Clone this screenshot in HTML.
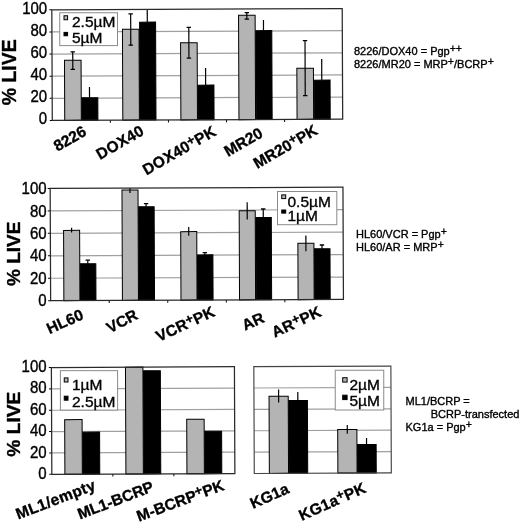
<!DOCTYPE html>
<html><head><meta charset="utf-8"><style>
html,body{margin:0;padding:0;background:#fff;}
svg{display:block;font-family:"Liberation Sans", sans-serif;filter:blur(0.3px);}
text{stroke:#000;stroke-width:0.35px;}
</style></head><body>
<svg width="520" height="524" viewBox="0 0 520 524">
<rect width="520" height="524" fill="#fff"/>
<g transform="rotate(-0.24 197.25 64.5)">
<line x1="52.05" y1="97.71" x2="342.45" y2="97.71" stroke="#a0a0a0" stroke-width="1.2"/>
<line x1="52.05" y1="75.57" x2="342.45" y2="75.57" stroke="#a0a0a0" stroke-width="1.2"/>
<line x1="52.05" y1="53.43" x2="342.45" y2="53.43" stroke="#a0a0a0" stroke-width="1.2"/>
<line x1="52.05" y1="31.29" x2="342.45" y2="31.29" stroke="#a0a0a0" stroke-width="1.2"/>
<line x1="49.55" y1="119.85" x2="52.05" y2="119.85" stroke="#000" stroke-width="1"/>
<line x1="49.55" y1="97.71" x2="52.05" y2="97.71" stroke="#000" stroke-width="1"/>
<line x1="49.55" y1="75.57" x2="52.05" y2="75.57" stroke="#000" stroke-width="1"/>
<line x1="49.55" y1="53.43" x2="52.05" y2="53.43" stroke="#000" stroke-width="1"/>
<line x1="49.55" y1="31.29" x2="52.05" y2="31.29" stroke="#000" stroke-width="1"/>
<line x1="49.55" y1="9.15" x2="52.05" y2="9.15" stroke="#000" stroke-width="1"/>
<rect x="64.50" y="59.78" width="16.59" height="60.07" fill="#b4b4b4" stroke="#000" stroke-width="1"/>
<rect x="81.69" y="97.25" width="15.99" height="22.60" fill="#000" stroke="#000" stroke-width="1"/>
<line x1="72.79" y1="51.28" x2="72.79" y2="68.88" stroke="#000" stroke-width="1.2"/>
<line x1="70.59" y1="51.28" x2="74.99" y2="51.28" stroke="#000" stroke-width="1.3"/>
<line x1="70.59" y1="68.88" x2="74.99" y2="68.88" stroke="#000" stroke-width="1.3"/>
<line x1="89.39" y1="86.55" x2="89.39" y2="97.25" stroke="#000" stroke-width="1.2"/>
<rect x="122.58" y="29.02" width="16.59" height="90.83" fill="#b4b4b4" stroke="#000" stroke-width="1"/>
<rect x="139.77" y="21.89" width="15.99" height="97.96" fill="#000" stroke="#000" stroke-width="1"/>
<line x1="130.87" y1="13.62" x2="130.87" y2="44.92" stroke="#000" stroke-width="1.2"/>
<line x1="128.67" y1="13.62" x2="133.07" y2="13.62" stroke="#000" stroke-width="1.3"/>
<line x1="128.67" y1="44.92" x2="133.07" y2="44.92" stroke="#000" stroke-width="1.3"/>
<line x1="147.47" y1="9.15" x2="147.47" y2="21.89" stroke="#000" stroke-width="1.2"/>
<line x1="110.13" y1="119.85" x2="110.13" y2="122.35" stroke="#000" stroke-width="1"/>
<rect x="180.66" y="42.77" width="16.59" height="77.08" fill="#b4b4b4" stroke="#000" stroke-width="1"/>
<rect x="197.85" y="85.13" width="15.99" height="34.72" fill="#000" stroke="#000" stroke-width="1"/>
<line x1="188.95" y1="27.37" x2="188.95" y2="58.07" stroke="#000" stroke-width="1.2"/>
<line x1="186.75" y1="27.37" x2="191.15" y2="27.37" stroke="#000" stroke-width="1.3"/>
<line x1="186.75" y1="58.07" x2="191.15" y2="58.07" stroke="#000" stroke-width="1.3"/>
<line x1="205.55" y1="67.93" x2="205.55" y2="85.13" stroke="#000" stroke-width="1.2"/>
<line x1="168.21" y1="119.85" x2="168.21" y2="122.35" stroke="#000" stroke-width="1"/>
<rect x="238.74" y="15.51" width="16.59" height="104.34" fill="#b4b4b4" stroke="#000" stroke-width="1"/>
<rect x="255.93" y="30.88" width="15.99" height="88.97" fill="#000" stroke="#000" stroke-width="1"/>
<line x1="247.03" y1="12.81" x2="247.03" y2="19.41" stroke="#000" stroke-width="1.2"/>
<line x1="244.83" y1="12.81" x2="249.23" y2="12.81" stroke="#000" stroke-width="1.3"/>
<line x1="244.83" y1="19.41" x2="249.23" y2="19.41" stroke="#000" stroke-width="1.3"/>
<line x1="263.63" y1="20.18" x2="263.63" y2="30.88" stroke="#000" stroke-width="1.2"/>
<line x1="226.29" y1="119.85" x2="226.29" y2="122.35" stroke="#000" stroke-width="1"/>
<rect x="296.82" y="68.65" width="16.59" height="51.20" fill="#b4b4b4" stroke="#000" stroke-width="1"/>
<rect x="314.01" y="80.62" width="15.99" height="39.23" fill="#000" stroke="#000" stroke-width="1"/>
<line x1="305.11" y1="41.15" x2="305.11" y2="96.05" stroke="#000" stroke-width="1.2"/>
<line x1="302.91" y1="41.15" x2="307.31" y2="41.15" stroke="#000" stroke-width="1.3"/>
<line x1="302.91" y1="96.05" x2="307.31" y2="96.05" stroke="#000" stroke-width="1.3"/>
<line x1="321.71" y1="59.52" x2="321.71" y2="80.62" stroke="#000" stroke-width="1.2"/>
<line x1="284.37" y1="119.85" x2="284.37" y2="122.35" stroke="#000" stroke-width="1"/>
<rect x="52.05" y="9.15" width="290.40" height="110.70" fill="none" stroke="#2a2a2a" stroke-width="1.25"/>
</g>
<text x="47.20" y="124.30" font-size="15" text-anchor="end" transform="translate(47.20 124.30) scale(1 1.08) translate(-47.20 -124.30)">0</text>
<text x="47.20" y="102.20" font-size="15" text-anchor="end" transform="translate(47.20 102.20) scale(1 1.08) translate(-47.20 -102.20)">20</text>
<text x="47.20" y="80.10" font-size="15" text-anchor="end" transform="translate(47.20 80.10) scale(1 1.08) translate(-47.20 -80.10)">40</text>
<text x="47.20" y="57.90" font-size="15" text-anchor="end" transform="translate(47.20 57.90) scale(1 1.08) translate(-47.20 -57.90)">60</text>
<text x="47.20" y="35.80" font-size="15" text-anchor="end" transform="translate(47.20 35.80) scale(1 1.08) translate(-47.20 -35.80)">80</text>
<text x="47.20" y="13.70" font-size="15" text-anchor="end" transform="translate(47.20 13.70) scale(1 1.08) translate(-47.20 -13.70)">100</text>
<rect x="59.75" y="12.75" width="57.75" height="32.85" fill="#fff" stroke="#8a8a8a" stroke-width="1"/>
<rect x="64.00" y="15.75" width="3.60" height="4.00" fill="#b4b4b4" stroke="#000" stroke-width="1"/>
<rect x="64.00" y="32.40" width="3.60" height="3.35" fill="#000" stroke="#000" stroke-width="1"/>
<text x="72.00" y="27.25" font-size="15.5">2.5µM</text>
<text x="72.00" y="42.50" font-size="15.5">5µM</text>
<text x="354.00" y="55.30" font-size="11">8226/DOX40 = Pgp<tspan dy="-3" font-size="10.5">++</tspan></text>
<text x="354.00" y="67.90" font-size="11">8226/MR20 = MRP<tspan dy="-3" font-size="10.5">+</tspan><tspan dy="3">/BCRP</tspan><tspan dy="-3" font-size="10.5">+</tspan></text>
<text x="16.20" y="72.30" font-size="19.5" text-anchor="middle" font-weight="bold" transform="rotate(-90 16.2 72.3)">% LIVE</text>
<g transform="rotate(-0.24 196.8 244)">
<line x1="50.40" y1="277.64" x2="343.20" y2="277.64" stroke="#a0a0a0" stroke-width="1.2"/>
<line x1="50.40" y1="255.18" x2="343.20" y2="255.18" stroke="#a0a0a0" stroke-width="1.2"/>
<line x1="50.40" y1="232.72" x2="343.20" y2="232.72" stroke="#a0a0a0" stroke-width="1.2"/>
<line x1="50.40" y1="210.26" x2="343.20" y2="210.26" stroke="#a0a0a0" stroke-width="1.2"/>
<line x1="47.90" y1="300.10" x2="50.40" y2="300.10" stroke="#000" stroke-width="1"/>
<line x1="47.90" y1="277.64" x2="50.40" y2="277.64" stroke="#000" stroke-width="1"/>
<line x1="47.90" y1="255.18" x2="50.40" y2="255.18" stroke="#000" stroke-width="1"/>
<line x1="47.90" y1="232.72" x2="50.40" y2="232.72" stroke="#000" stroke-width="1"/>
<line x1="47.90" y1="210.26" x2="50.40" y2="210.26" stroke="#000" stroke-width="1"/>
<line x1="47.90" y1="187.80" x2="50.40" y2="187.80" stroke="#000" stroke-width="1"/>
<rect x="63.63" y="229.87" width="16.05" height="70.23" fill="#b4b4b4" stroke="#000" stroke-width="1"/>
<rect x="80.28" y="263.34" width="15.45" height="36.76" fill="#000" stroke="#000" stroke-width="1"/>
<line x1="71.66" y1="227.27" x2="71.66" y2="231.97" stroke="#000" stroke-width="1.2"/>
<line x1="87.70" y1="259.74" x2="87.70" y2="263.34" stroke="#000" stroke-width="1.2"/>
<line x1="85.50" y1="259.74" x2="89.90" y2="259.74" stroke="#000" stroke-width="1.3"/>
<rect x="122.19" y="189.77" width="16.05" height="110.33" fill="#b4b4b4" stroke="#000" stroke-width="1"/>
<rect x="138.84" y="206.59" width="15.45" height="93.51" fill="#000" stroke="#000" stroke-width="1"/>
<line x1="130.22" y1="187.80" x2="130.22" y2="192.72" stroke="#000" stroke-width="1.2"/>
<line x1="146.26" y1="203.39" x2="146.26" y2="206.59" stroke="#000" stroke-width="1.2"/>
<line x1="144.06" y1="203.39" x2="148.46" y2="203.39" stroke="#000" stroke-width="1.3"/>
<line x1="108.96" y1="300.10" x2="108.96" y2="302.60" stroke="#000" stroke-width="1"/>
<rect x="180.75" y="231.57" width="16.05" height="68.53" fill="#b4b4b4" stroke="#000" stroke-width="1"/>
<rect x="197.40" y="254.93" width="15.45" height="45.17" fill="#000" stroke="#000" stroke-width="1"/>
<line x1="188.78" y1="226.97" x2="188.78" y2="235.77" stroke="#000" stroke-width="1.2"/>
<line x1="204.82" y1="252.73" x2="204.82" y2="254.93" stroke="#000" stroke-width="1.2"/>
<line x1="202.62" y1="252.73" x2="207.02" y2="252.73" stroke="#000" stroke-width="1.3"/>
<line x1="167.52" y1="300.10" x2="167.52" y2="302.60" stroke="#000" stroke-width="1"/>
<rect x="239.31" y="210.91" width="16.05" height="89.19" fill="#b4b4b4" stroke="#000" stroke-width="1"/>
<rect x="255.96" y="217.78" width="15.45" height="82.32" fill="#000" stroke="#000" stroke-width="1"/>
<line x1="247.34" y1="202.51" x2="247.34" y2="219.81" stroke="#000" stroke-width="1.2"/>
<line x1="263.38" y1="209.28" x2="263.38" y2="217.78" stroke="#000" stroke-width="1.2"/>
<line x1="261.18" y1="209.28" x2="265.58" y2="209.28" stroke="#000" stroke-width="1.3"/>
<line x1="226.08" y1="300.10" x2="226.08" y2="302.60" stroke="#000" stroke-width="1"/>
<rect x="297.87" y="243.76" width="16.05" height="56.34" fill="#b4b4b4" stroke="#000" stroke-width="1"/>
<rect x="314.52" y="249.33" width="15.45" height="50.77" fill="#000" stroke="#000" stroke-width="1"/>
<line x1="305.90" y1="235.96" x2="305.90" y2="251.76" stroke="#000" stroke-width="1.2"/>
<line x1="321.94" y1="245.53" x2="321.94" y2="249.33" stroke="#000" stroke-width="1.2"/>
<line x1="319.74" y1="245.53" x2="324.14" y2="245.53" stroke="#000" stroke-width="1.3"/>
<line x1="284.64" y1="300.10" x2="284.64" y2="302.60" stroke="#000" stroke-width="1"/>
<rect x="50.4" y="187.8" width="292.80" height="112.30" fill="none" stroke="#2a2a2a" stroke-width="1.25"/>
</g>
<text x="46.60" y="306.50" font-size="15" text-anchor="end" transform="translate(46.60 306.50) scale(1 1.08) translate(-46.60 -306.50)">0</text>
<text x="46.60" y="284.00" font-size="15" text-anchor="end" transform="translate(46.60 284.00) scale(1 1.08) translate(-46.60 -284.00)">20</text>
<text x="46.60" y="261.50" font-size="15" text-anchor="end" transform="translate(46.60 261.50) scale(1 1.08) translate(-46.60 -261.50)">40</text>
<text x="46.60" y="239.00" font-size="15" text-anchor="end" transform="translate(46.60 239.00) scale(1 1.08) translate(-46.60 -239.00)">60</text>
<text x="46.60" y="216.60" font-size="15" text-anchor="end" transform="translate(46.60 216.60) scale(1 1.08) translate(-46.60 -216.60)">80</text>
<text x="46.60" y="194.10" font-size="15" text-anchor="end" transform="translate(46.60 194.10) scale(1 1.08) translate(-46.60 -194.10)">100</text>
<rect x="277.50" y="191.50" width="59.30" height="33.20" fill="#fff" stroke="#8a8a8a" stroke-width="1"/>
<rect x="281.75" y="194.90" width="3.95" height="3.70" fill="#b4b4b4" stroke="#000" stroke-width="1"/>
<rect x="281.75" y="210.00" width="3.95" height="3.10" fill="#000" stroke="#000" stroke-width="1"/>
<text x="287.50" y="206.90" font-size="15.5">0.5µM</text>
<text x="287.50" y="221.00" font-size="15.5">1µM</text>
<text x="356.00" y="238.30" font-size="11">HL60/VCR = Pgp<tspan dy="-3" font-size="10.5">+</tspan></text>
<text x="356.00" y="251.40" font-size="11">HL60/AR = MRP<tspan dy="-3" font-size="10.5">+</tspan></text>
<text x="19.80" y="253.80" font-size="19" text-anchor="middle" font-weight="bold" transform="rotate(-90 19.8 253.8)">% LIVE</text>
<g transform="rotate(-0.24 221 420)">
<line x1="51.60" y1="452.24" x2="234.65" y2="452.24" stroke="#a0a0a0" stroke-width="1.2"/>
<line x1="51.60" y1="430.88" x2="234.65" y2="430.88" stroke="#a0a0a0" stroke-width="1.2"/>
<line x1="51.60" y1="409.52" x2="234.65" y2="409.52" stroke="#a0a0a0" stroke-width="1.2"/>
<line x1="51.60" y1="388.16" x2="234.65" y2="388.16" stroke="#a0a0a0" stroke-width="1.2"/>
<line x1="49.10" y1="473.60" x2="51.60" y2="473.60" stroke="#000" stroke-width="1"/>
<line x1="49.10" y1="452.24" x2="51.60" y2="452.24" stroke="#000" stroke-width="1"/>
<line x1="49.10" y1="430.88" x2="51.60" y2="430.88" stroke="#000" stroke-width="1"/>
<line x1="49.10" y1="409.52" x2="51.60" y2="409.52" stroke="#000" stroke-width="1"/>
<line x1="49.10" y1="388.16" x2="51.60" y2="388.16" stroke="#000" stroke-width="1"/>
<line x1="49.10" y1="366.80" x2="51.60" y2="366.80" stroke="#000" stroke-width="1"/>
<rect x="64.67" y="418.98" width="17.43" height="54.62" fill="#b4b4b4" stroke="#000" stroke-width="1"/>
<rect x="82.71" y="431.55" width="16.83" height="42.05" fill="#000" stroke="#000" stroke-width="1"/>
<rect x="125.69" y="366.80" width="17.43" height="106.80" fill="#b4b4b4" stroke="#000" stroke-width="1"/>
<rect x="143.72" y="370.51" width="16.83" height="103.09" fill="#000" stroke="#000" stroke-width="1"/>
<line x1="112.62" y1="473.60" x2="112.62" y2="476.10" stroke="#000" stroke-width="1"/>
<rect x="186.71" y="419.19" width="17.43" height="54.41" fill="#b4b4b4" stroke="#000" stroke-width="1"/>
<rect x="204.74" y="431.27" width="16.83" height="42.33" fill="#000" stroke="#000" stroke-width="1"/>
<line x1="173.63" y1="473.60" x2="173.63" y2="476.10" stroke="#000" stroke-width="1"/>
<rect x="51.6" y="366.8" width="183.05" height="106.80" fill="none" stroke="#2a2a2a" stroke-width="1.25"/>
</g>
<text x="46.60" y="478.95" font-size="15" text-anchor="end" transform="translate(46.60 478.95) scale(1 1.08) translate(-46.60 -478.95)">0</text>
<text x="46.60" y="457.55" font-size="15" text-anchor="end" transform="translate(46.60 457.55) scale(1 1.08) translate(-46.60 -457.55)">20</text>
<text x="46.60" y="436.15" font-size="15" text-anchor="end" transform="translate(46.60 436.15) scale(1 1.08) translate(-46.60 -436.15)">40</text>
<text x="46.60" y="414.65" font-size="15" text-anchor="end" transform="translate(46.60 414.65) scale(1 1.08) translate(-46.60 -414.65)">60</text>
<text x="46.60" y="393.35" font-size="15" text-anchor="end" transform="translate(46.60 393.35) scale(1 1.08) translate(-46.60 -393.35)">80</text>
<text x="46.60" y="372.05" font-size="15" text-anchor="end" transform="translate(46.60 372.05) scale(1 1.08) translate(-46.60 -372.05)">100</text>
<rect x="60.40" y="370.65" width="57.20" height="39.45" fill="#fff" stroke="#8a8a8a" stroke-width="1"/>
<rect x="64.25" y="377.90" width="3.75" height="4.10" fill="#b4b4b4" stroke="#000" stroke-width="1"/>
<rect x="64.25" y="396.20" width="3.75" height="4.00" fill="#000" stroke="#000" stroke-width="1"/>
<text x="72.00" y="389.90" font-size="15.5">1µM</text>
<text x="72.00" y="406.70" font-size="15.5">2.5µM</text>
<g transform="rotate(-0.24 221 420)">
<line x1="254.05" y1="452.24" x2="391.10" y2="452.24" stroke="#a0a0a0" stroke-width="1.2"/>
<line x1="254.05" y1="430.88" x2="391.10" y2="430.88" stroke="#a0a0a0" stroke-width="1.2"/>
<line x1="254.05" y1="409.52" x2="391.10" y2="409.52" stroke="#a0a0a0" stroke-width="1.2"/>
<line x1="254.05" y1="388.16" x2="391.10" y2="388.16" stroke="#a0a0a0" stroke-width="1.2"/>
<rect x="269.13" y="396.49" width="19.19" height="77.11" fill="#b4b4b4" stroke="#000" stroke-width="1"/>
<rect x="288.91" y="400.82" width="18.59" height="72.78" fill="#000" stroke="#000" stroke-width="1"/>
<line x1="278.72" y1="389.74" x2="278.72" y2="402.74" stroke="#000" stroke-width="1.2"/>
<line x1="297.91" y1="392.32" x2="297.91" y2="400.82" stroke="#000" stroke-width="1.2"/>
<rect x="337.65" y="430.03" width="19.19" height="43.57" fill="#b4b4b4" stroke="#000" stroke-width="1"/>
<rect x="357.44" y="445.11" width="18.59" height="28.49" fill="#000" stroke="#000" stroke-width="1"/>
<line x1="347.24" y1="425.53" x2="347.24" y2="434.28" stroke="#000" stroke-width="1.2"/>
<line x1="366.43" y1="438.61" x2="366.43" y2="445.11" stroke="#000" stroke-width="1.2"/>
<rect x="254.05" y="366.8" width="137.05" height="106.80" fill="none" stroke="#444" stroke-width="1.15"/>
</g>
<rect x="335.25" y="370.25" width="48.50" height="39.75" fill="#fff" stroke="#8a8a8a" stroke-width="1"/>
<rect x="342.70" y="377.70" width="4.40" height="4.40" fill="#b4b4b4" stroke="#000" stroke-width="1"/>
<rect x="342.70" y="395.20" width="4.40" height="4.40" fill="#000" stroke="#000" stroke-width="1"/>
<text x="349.50" y="389.70" font-size="15.5">2µM</text>
<text x="349.50" y="406.20" font-size="15.5">5µM</text>
<text x="405.50" y="405.10" font-size="11">ML1/BCRP =</text>
<text x="430.75" y="418.20" font-size="11">BCRP-transfected</text>
<text x="405.50" y="431.40" font-size="11">KG1a = Pgp<tspan dy="-3" font-size="10.5">+</tspan></text>
<text x="19.60" y="424.20" font-size="19.2" text-anchor="middle" font-weight="bold" transform="rotate(-90 19.6 424.2)">% LIVE</text>
<text x="57.60" y="151.75" font-size="15.5" font-weight="bold" transform="rotate(-30 57.60 151.75)">8226</text>
<text x="100.10" y="159.90" font-size="15.5" font-weight="bold" letter-spacing="0.25" transform="rotate(-30 100.10 159.90)">DOX40</text>
<text x="146.40" y="175.40" font-size="15.5" font-weight="bold" letter-spacing="0.25" transform="rotate(-30 146.40 175.40)">DOX40<tspan dy="-4" font-size="13">+</tspan><tspan dy="4">PK</tspan></text>
<text x="228.10" y="156.90" font-size="15.5" font-weight="bold" transform="rotate(-30 228.10 156.90)">MR20</text>
<text x="257.15" y="168.95" font-size="15.5" font-weight="bold" letter-spacing="0.10" transform="rotate(-30 257.15 168.95)">MR20<tspan dy="-4" font-size="13">+</tspan><tspan dy="4">PK</tspan></text>
<text x="49.51" y="334.20" font-size="15.5" font-weight="bold" letter-spacing="0.15" transform="rotate(-24 49.51 334.20)">HL60</text>
<text x="110.06" y="333.60" font-size="15.5" font-weight="bold" transform="rotate(-28 110.06 333.60)">VCR</text>
<text x="158.96" y="342.10" font-size="15.5" font-weight="bold" letter-spacing="0.20" transform="rotate(-25 158.96 342.10)">VCR<tspan dy="-4" font-size="13">+</tspan><tspan dy="4">PK</tspan></text>
<text x="244.96" y="330.75" font-size="15.5" font-weight="bold" transform="rotate(-24 244.96 330.75)">AR</text>
<text x="274.86" y="337.80" font-size="15.5" font-weight="bold" letter-spacing="0.25" transform="rotate(-25 274.86 337.80)">AR<tspan dy="-4" font-size="13">+</tspan><tspan dy="4">PK</tspan></text>
<text x="18.31" y="519.45" font-size="15.5" font-weight="bold" letter-spacing="0.35" transform="rotate(-21 18.31 519.45)">ML1/empty</text>
<text x="80.00" y="519.50" font-size="15.5" font-weight="bold" transform="rotate(-21 80.00 519.50)">ML1-BCRP</text>
<text x="139.05" y="521.70" font-size="15.5" font-weight="bold" letter-spacing="0.10" transform="rotate(-20.5 139.05 521.70)">M-BCRP<tspan dy="-4" font-size="13">+</tspan><tspan dy="4">PK</tspan></text>
<text x="253.06" y="508.95" font-size="15.5" font-weight="bold" transform="rotate(-24 253.06 508.95)">KG1a</text>
<text x="301.81" y="520.95" font-size="15.5" font-weight="bold" letter-spacing="0.30" transform="rotate(-24 301.81 520.95)">KG1a<tspan dy="-4" font-size="13">+</tspan><tspan dy="4">PK</tspan></text>
</svg>
</body></html>
